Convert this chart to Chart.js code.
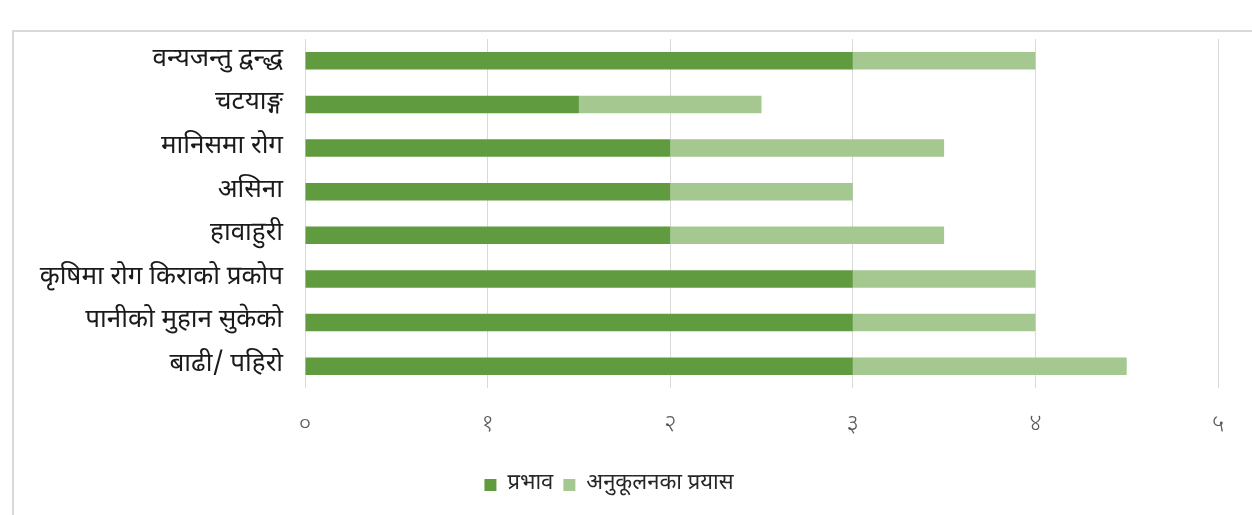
<!DOCTYPE html>
<html>
<head>
<meta charset="utf-8">
<script src="https://cdn.jsdelivr.net/npm/chart.js@4.4.1/dist/chart.umd.min.js"></script>
<style>
    html, body { margin: 0; padding: 0; background: #fff; }
    body { width: 1252px; height: 515px; position: relative; overflow: hidden; }
    .frame { position: absolute; left: 12px; top: 30px; width: 1300px; height: 600px;
             border-left: 2px solid #d9d9d9; border-top: 2px solid #d9d9d9; }
    #wrap { position: absolute; left: 0; top: 0; width: 1252px; height: 515px; }
</style>
</head>
<body>
<div class="frame"></div>
<div id="wrap"><canvas id="canvasChart"></canvas></div>
<script>
const kategori = ['वन्यजन्तु द्वन्द्ध', 'चटयाङ्ग', 'मानिसमा रोग', 'असिना', 'हावाहुरी',
                  'कृषिमा रोग किराको प्रकोप', 'पानीको मुहान सुकेको', 'बाढी/ पहिरो'];
const nilaiPrabhav = [3, 1.5, 2, 2, 2, 3, 3, 3];
const nilaiAnukulan = [1, 1, 1.5, 1, 1.5, 1, 1, 1.5];
const labelTick = ['०', '१', '२', '३', '४', '५'];

const fontDev = "'Noto Sans Devanagari', 'Lohit Devanagari', 'Noto Serif Devanagari', 'Noto Sans', sans-serif";

let ctx = document.getElementById('canvasChart').getContext('2d');
let chart = new Chart(ctx, {
    type: 'bar',
    data: {
        labels: kategori,
        datasets: [
            {
                label: 'प्रभाव',
                data: nilaiPrabhav,
                backgroundColor: '#609b3f',
                barPercentage: 0.4,
                categoryPercentage: 1
            },
            {
                label: 'अनुकूलनका प्रयास',
                data: nilaiAnukulan,
                backgroundColor: '#a5c790',
                barPercentage: 0.4,
                categoryPercentage: 1
            }
        ]
    },
    options: {
        indexAxis: 'y',
        responsive: true,
        maintainAspectRatio: false,
        animation: false,
        layout: { padding: { left: 0, top: 39, right: 34, bottom: 9 } },
        plugins: {
            tooltip: { enabled: false },
            legend: {
                position: 'bottom',
                labels: {
                    boxWidth: 12,
                    boxHeight: 12,
                    padding: 10,
                    color: '#262626',
                    font: { family: fontDev, size: 22 }
                }
            }
        },
        scales: {
            x: {
                stacked: true,
                min: 0,
                max: 5,
                grid: { color: '#d9d9d9', lineWidth: 1, drawTicks: false },
                border: { display: false },
                ticks: {
                    stepSize: 1,
                    padding: 24,
                    color: '#595959',
                    font: { family: fontDev, size: 24, weight: 300 },
                    callback: (v) => labelTick[v]
                },
                afterFit: (s) => { s.height = 76; }
            },
            y: {
                stacked: true,
                grid: { display: false, drawTicks: false },
                border: { display: false },
                ticks: {
                    padding: 22,
                    color: '#1a1a1a',
                    font: { family: fontDev, size: 26 }
                },
                afterFit: (s) => { s.width = 305; }
            }
        }
    }
});
</script>
</body>
</html>
